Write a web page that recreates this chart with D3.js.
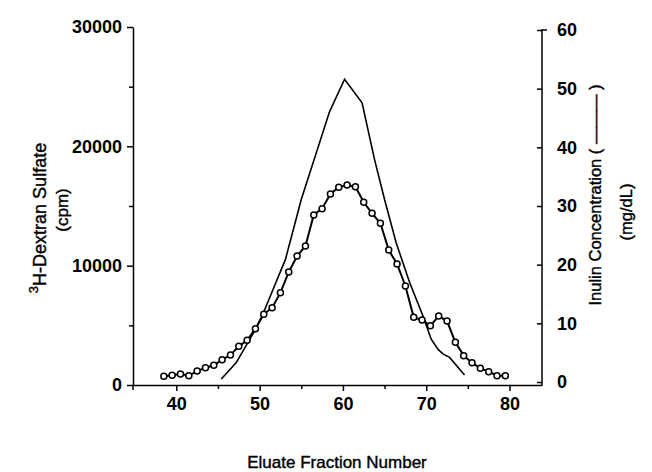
<!DOCTYPE html>
<html>
<head>
<meta charset="utf-8">
<script src="https://cdn.jsdelivr.net/npm/d3@7"></script>
<style>
  body { margin: 0; background: #fff; }
  text { font-family: "Liberation Sans", Arial, sans-serif; fill: #000; }
  .axis path, .axis line { stroke: #000; stroke-width: 1.5; }
  .axis text { font-size: 18px; font-weight: bold; }
  .title { stroke: #000; stroke-width: 0.4; }
</style>
</head>
<body>
<div id="chart"></div>
<script>
/* global d3 */

// 3H-dextran sulfate, one value per eluate fraction (circles, left axis)
const fractions = [38.5, 39.5, 40.5, 41.5, 42.5, 43.5, 44.5, 45.5, 46.5, 47.5,
  48.5, 49.5, 50.5, 51.5, 52.5, 53.5, 54.5, 55.5, 56.5, 57.5,
  58.5, 59.5, 60.5, 61.5, 62.5, 63.5, 64.5, 65.5, 66.5, 67.5,
  68.5, 69.5, 70.5, 71.5, 72.5, 73.5, 74.5, 75.5, 76.5, 77.5,
  78.5, 79.5]
const dextranCpm = [730, 810, 920, 780, 1170, 1450, 1650, 2120, 2510, 3240,
  3750, 4720, 5930, 6480, 7740, 9470, 10810, 11650, 14250, 14780,
  16010, 16570, 16760, 16620, 15310, 14390, 13550, 11310, 10140, 8300,
  5670, 5450, 4970, 5780, 5360, 3580, 2460, 1870, 1400, 1120,
  780, 780]

// inulin concentration (plain line, right axis)
const inulinFraction = [45.4, 47.2, 49.4, 50.4, 53.1, 55.0, 58.4, 60.2, 62.3, 63.8,
  65.0, 66.4, 68.0, 69.6, 70.6, 71.4, 72.0, 72.8, 74.6]
const inulinConc = [0.5, 3.3, 8.7, 11.6, 20.9, 31.1, 46.1, 51.6, 47.6, 37.9,
  31.1, 23.7, 17.0, 11.3, 7.3, 5.6, 4.8, 4.2, 1.2]

// ticks
const xTicks = [40, 50, 60, 70, 80]
const xMinor = [45, 55, 65, 75]
const leftTicks = [0, 10000, 20000, 30000]
const leftMinor = [5000, 15000, 25000]
const rightTicks = [0, 10, 20, 30, 40, 50, 60]

const width = 652,
      height = 472

let svg = d3.select('#chart')
  .append('svg')
  .attr('width', width)
  .attr('height', height)

svg.append('rect')
  .attr('width', width)
  .attr('height', height)
  .attr('fill', '#fff')

let x = d3.scaleLinear()
  .domain([34.8, 83.9])
  .range([133, 542])

let yLeft = d3.scaleLinear()
  .domain([0, 30000])
  .range([385, 27])

let yRight = d3.scaleLinear()
  .domain([0, 60])
  .range([382, 30])

// x axis
svg.append('g')
  .attr('class', 'axis')
  .attr('transform', `translate(0, ${ yLeft(0) })`)
  .call(d3.axisBottom(x)
    .tickValues(xTicks)
    .tickSize(6)
    .tickSizeOuter(0)
    .tickPadding(6))

svg.append('g')
  .attr('class', 'axis')
  .attr('transform', `translate(0, ${ yLeft(0) })`)
  .call(d3.axisBottom(x)
    .tickValues(xMinor)
    .tickSize(4)
    .tickFormat(''))
  .select('.domain').remove()

// left axis
svg.append('g')
  .attr('class', 'axis')
  .attr('transform', `translate(${ x.range()[0] }, 0)`)
  .call(d3.axisLeft(yLeft)
    .tickValues(leftTicks)
    .tickSize(6)
    .tickSizeOuter(0)
    .tickPadding(5)
    .tickFormat(d3.format('d')))

svg.append('g')
  .attr('class', 'axis')
  .attr('transform', `translate(${ x.range()[0] }, 0)`)
  .call(d3.axisLeft(yLeft)
    .tickValues(leftMinor)
    .tickSize(4)
    .tickFormat(''))
  .select('.domain').remove()

// little stub of the left axis below the corner
svg.append('line')
  .attr('x1', x.range()[0]).attr('x2', x.range()[0])
  .attr('y1', yLeft(0)).attr('y2', yLeft(0) + 5)
  .attr('stroke', '#000').attr('stroke-width', 1.5)

// right axis, ticks point inward
let rAxis = svg.append('g')
  .attr('class', 'axis')
  .attr('transform', `translate(${ x.range()[1] }, 0)`)
  .call(d3.axisRight(yRight)
    .tickValues(rightTicks)
    .tickSize(-5)
    .tickSizeOuter(0)
    .tickPadding(15))
rAxis.select('.domain')
  .attr('d', `M0,${ yLeft(0) }V${ yRight(60) }h5`)

// inulin line
let inulinLine = d3.line()
  .x((d, i) => x(inulinFraction[i]))
  .y(d => yRight(d))

svg.append('path')
  .datum(inulinConc)
  .attr('d', inulinLine)
  .attr('fill', 'none')
  .attr('stroke', '#000')
  .attr('stroke-width', 1.6)

// dextran line + circles
let dextranLine = d3.line()
  .x((d, i) => x(fractions[i]))
  .y(d => yLeft(d))

svg.append('path')
  .datum(dextranCpm)
  .attr('d', dextranLine)
  .attr('fill', 'none')
  .attr('stroke', '#000')
  .attr('stroke-width', 2)

svg.selectAll('circle')
  .data(dextranCpm)
  .enter()
  .append('circle')
  .attr('cx', (d, i) => x(fractions[i]))
  .attr('cy', d => yLeft(d))
  .attr('r', 3)
  .attr('fill', '#fff')
  .attr('stroke', '#000')
  .attr('stroke-width', 1.5)

// titles
svg.append('text')
  .attr('class', 'title')
  .attr('x', 337)
  .attr('y', 468)
  .attr('text-anchor', 'middle')
  .style('font-size', '17px')
  .text('Eluate Fraction Number')

let leftTitle = svg.append('text')
  .attr('class', 'title')
  .attr('transform', 'translate(46, 218) rotate(-90)')
  .attr('text-anchor', 'middle')
  .style('font-size', '18px')
leftTitle.append('tspan')
  .attr('dy', -8)
  .style('font-size', '13px')
  .text('3')
leftTitle.append('tspan')
  .attr('dy', 8)
  .text('H-Dextran Sulfate')

svg.append('text')
  .attr('class', 'title')
  .attr('transform', 'translate(68, 210) rotate(-90)')
  .attr('text-anchor', 'middle')
  .style('font-size', '17px')
  .text('(cpm)')

svg.append('text')
  .attr('class', 'title')
  .attr('transform', 'translate(601, 195) rotate(-90)')
  .attr('text-anchor', 'middle')
  .style('font-size', '16.5px')
  .text('Inulin Concentration ( \u2014\u2014\u2014 )')

svg.append('text')
  .attr('class', 'title')
  .attr('transform', 'translate(632, 212) rotate(-90)')
  .attr('text-anchor', 'middle')
  .style('font-size', '16.5px')
  .text('(mg/dL)')
</script>
</body>
</html>
